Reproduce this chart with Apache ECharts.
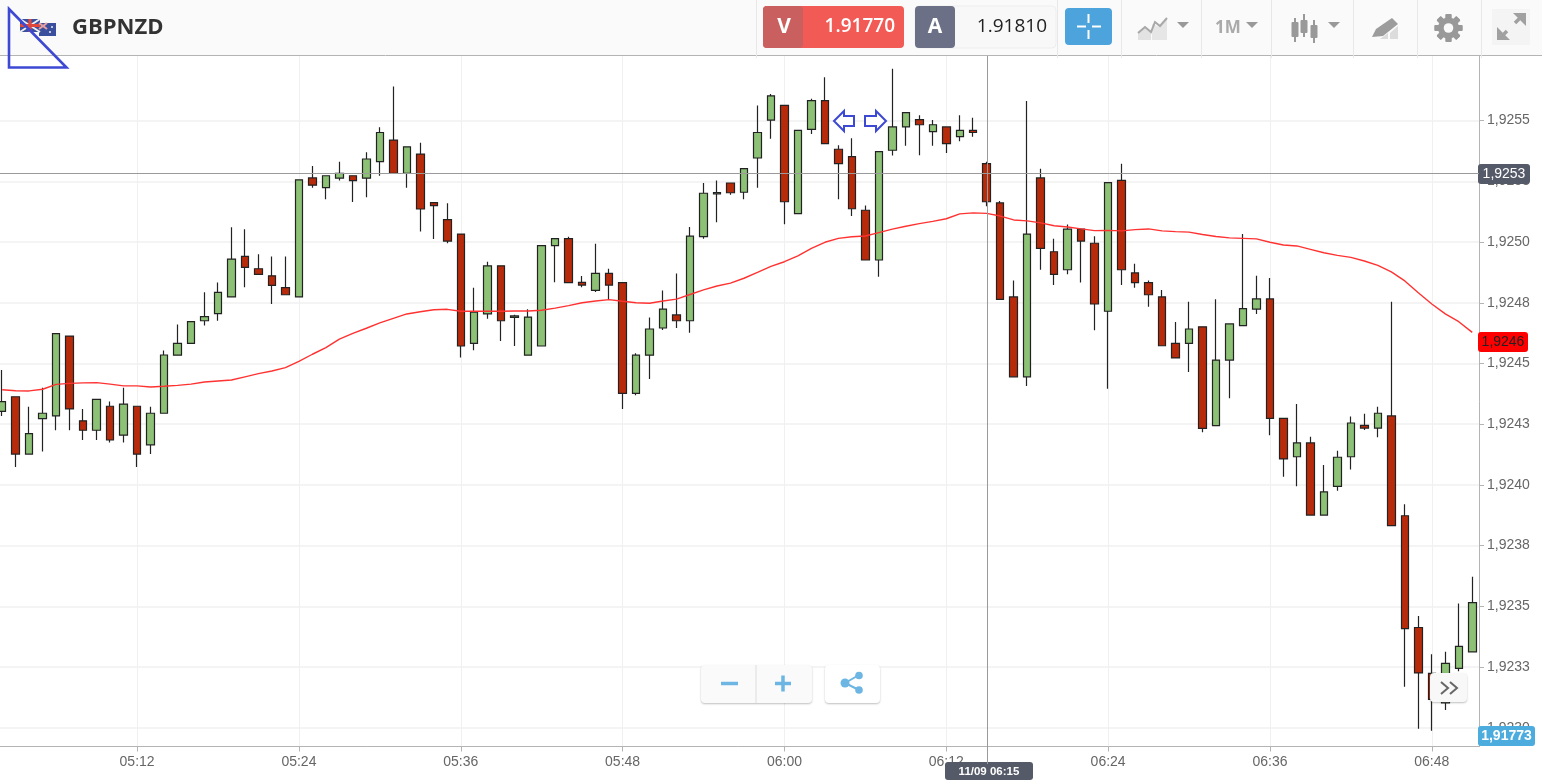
<!DOCTYPE html>
<html>
<head>
<meta charset="utf-8">
<style>html,body{margin:0;padding:0;background:#fff;overflow:hidden;width:1542px;height:780px}#c{position:absolute;left:-5px;top:0;width:1547px;height:780px}</style>
<script src="https://cdn.jsdelivr.net/npm/echarts@6/dist/echarts.min.js"></script>
</head>
<body>
<div id="c"></div>
<script>
const symbolName = 'GBPNZD';
const bidPrice = '1.91770';
const askPrice = '1.91810';
const startMinute = 5 * 60 + 2;
const candleCount = 110;
const categories = Array.from({length: candleCount}, (_, i) => {
  const m = startMinute + i;
  return String(Math.floor(m / 60)).padStart(2, '0') + ':' + String(m % 60).padStart(2, '0');
});
const opens = [1.924303,1.924363,1.924127,1.924273,1.924284,1.924613,1.924264,1.924225,1.924324,1.924205,
1.924324,1.924165,1.924295,1.924534,1.924583,1.924676,1.924705,1.924774,1.924941,1.92489,
1.924861,1.924812,1.924774,1.925264,1.925224,1.925263,1.925273,1.925263,1.925331,1.92542,
1.925283,1.925362,1.925162,1.925092,1.925033,1.924583,1.924704,1.924902,1.92469,1.924534,
1.924572,1.924985,1.925014,1.924834,1.924801,1.924871,1.924833,1.924377,1.924534,1.924646,
1.9247,1.924676,1.925022,1.925198,1.925243,1.925205,1.925346,1.925502,1.925563,1.925117,
1.925464,1.925582,1.925382,1.925352,1.925131,1.924926,1.925378,1.925474,1.925504,1.925455,
1.925474,1.925434,1.92546,1.925323,1.925161,1.924774,1.924445,1.925264,1.92496,1.924886,
1.925053,1.924995,1.924715,1.925254,1.924873,1.924833,1.924774,1.924583,1.924583,1.924651,
1.924244,1.924514,1.924656,1.924724,1.924766,1.924274,1.924116,1.924173,1.923876,1.923994,
1.924116,1.924245,1.924234,1.924284,1.923873,1.923413,1.923224,1.923103,1.923245,1.923313];
const closes = [1.924343,1.924127,1.924211,1.924295,1.924623,1.924313,1.924225,1.924352,1.924185,1.924333,
1.924127,1.924295,1.924535,1.924583,1.924672,1.924693,1.924793,1.92493,1.924896,1.924867,
1.924822,1.924783,1.925256,1.925234,1.925273,1.925283,1.925253,1.925342,1.925451,1.925283,
1.925392,1.925136,1.92515,1.925004,1.924572,1.924711,1.924902,1.924676,1.924696,1.924691,
1.924985,1.925014,1.924833,1.924823,1.924871,1.924823,1.924377,1.924534,1.924642,1.924724,
1.924676,1.925024,1.925201,1.925204,1.925203,1.925302,1.925451,1.925602,1.925166,1.92546,
1.925582,1.925405,1.925323,1.925137,1.924926,1.925372,1.925474,1.925533,1.925483,1.925483,
1.925405,1.92546,1.925451,1.925166,1.924764,1.924445,1.925033,1.924974,1.924867,1.925053,
1.925004,1.924745,1.925245,1.924886,1.924833,1.924783,1.924573,1.924523,1.924642,1.924233,
1.924514,1.924663,1.924726,1.924766,1.924274,1.924107,1.924173,1.923876,1.923971,1.924114,
1.924255,1.924234,1.924295,1.923832,1.923408,1.923226,1.923117,1.923265,1.923335,1.923515];
const lows = [1.924284,1.924074,1.924127,1.924138,1.924225,1.924225,1.924185,1.924185,1.924175,1.924175,
1.924074,1.924127,1.924295,1.924534,1.924583,1.924656,1.924676,1.924774,1.924814,1.924867,
1.924745,1.924783,1.924774,1.925224,1.925176,1.925253,1.925165,1.925184,1.925273,1.925283,
1.925224,1.925043,1.925013,1.924995,1.924525,1.924554,1.924684,1.924593,1.924572,1.924534,
1.924572,1.924834,1.924833,1.924814,1.924794,1.924761,1.924313,1.924369,1.924436,1.924638,
1.924646,1.924627,1.925014,1.925081,1.925195,1.925176,1.925224,1.925425,1.925073,1.925117,
1.925445,1.925405,1.925176,1.925107,1.924926,1.924857,1.925356,1.925396,1.925357,1.925396,
1.925367,1.925415,1.925434,1.925147,1.924764,1.924445,1.924407,1.924886,1.924823,1.924867,
1.924833,1.924637,1.924396,1.924823,1.924812,1.924734,1.924573,1.924523,1.924465,1.924217,
1.924244,1.924357,1.924656,1.924704,1.924205,1.924034,1.923995,1.923876,1.923876,1.923976,
1.924064,1.924226,1.924196,1.923832,1.923169,1.922996,1.922988,1.923073,1.923233,1.923313];
const highs = [1.924473,1.924363,1.924322,1.9244,1.924623,1.924613,1.924313,1.924352,1.924343,1.9244,
1.924324,1.924322,1.924553,1.924661,1.924672,1.924793,1.924833,1.925061,1.925053,1.92495,
1.92494,1.92494,1.925256,1.925313,1.925273,1.925331,1.925273,1.92537,1.925473,1.92564,
1.925392,1.925409,1.925165,1.92516,1.925033,1.924812,1.924919,1.924902,1.924701,1.924723,
1.924985,1.925014,1.925022,1.92486,1.924993,1.92489,1.924833,1.924542,1.924689,1.924801,
1.92487,1.925062,1.925243,1.925253,1.925243,1.925302,1.925562,1.92561,1.925563,1.92546,
1.92559,1.925679,1.925399,1.925427,1.92515,1.925372,1.925713,1.925533,1.925522,1.925502,
1.925474,1.925522,1.925512,1.925331,1.925169,1.924842,1.925581,1.925302,1.925014,1.925072,
1.925053,1.925024,1.925245,1.925322,1.924911,1.924842,1.924803,1.924671,1.924754,1.924651,
1.924764,1.924663,1.925033,1.924861,1.924852,1.924274,1.924333,1.924198,1.924082,1.924141,
1.924282,1.924293,1.924322,1.924754,1.92392,1.92346,1.923303,1.923313,1.923512,1.923622];
const movingAverage = [1.924392,1.924388,1.924387,1.924394,1.924414,1.924418,1.92442,1.924421,1.924415,1.924408,
1.924408,1.924403,1.924406,1.92441,1.924415,1.924424,1.924428,1.924432,1.924445,1.924458,
1.924469,1.924483,1.924509,1.924538,1.924565,1.9246,1.924624,1.924645,1.924667,1.924686,
1.924704,1.924713,1.924721,1.924723,1.924715,1.924715,1.924715,1.924715,1.924716,1.924716,
1.924719,1.924728,1.924738,1.92475,1.924757,1.924763,1.924756,1.92475,1.924748,1.924757,
1.924765,1.924784,1.924803,1.924819,1.924831,1.924851,1.924875,1.9249,1.924919,1.924943,
1.924974,1.924999,1.925015,1.925022,1.925025,1.925039,1.925053,1.925065,1.925076,1.925085,
1.925096,1.925116,1.92512,1.925118,1.925107,1.925091,1.925087,1.925079,1.925067,1.925062,
1.925054,1.925047,1.925048,1.925046,1.925051,1.925054,1.925046,1.925043,1.925041,1.925031,
1.925023,1.925017,1.925015,1.925013,1.924999,1.924988,1.924984,1.92497,1.924956,1.924945,
1.924937,1.924922,1.924904,1.924877,1.92484,1.924791,1.924745,1.924704,1.924672,1.924628];
const yTickValues = [1.9230,1.92325,1.9235,1.92375,1.9240,1.92425,1.9245,1.92475,1.9250,1.92525,1.9255];
const yTickLabels = ['1,9230','1,9233','1,9235','1,9238','1,9240','1,9243','1,9245','1,9248','1,9250','1,9253','1,9255'];
const yMin = 1.922923, yMax = 1.925766;
const crossTime = '06:15', crossTimeLabel = '11/09 06:15';
const crossPrice = 1.925283, crossPriceLabel = '1,9253';
const maTagPrice = 1.924588, maTagLabel = '1,9246';
const liveTagLabel = '1,91773';

const up = '#8cc176', down = '#b82b0a', edge = '#222222', gridC = '#f0f0f0', axisC = '#b4b4b4', txt = '#666';
const labelEvery = idx => (idx - 10) % 12 === 0;
const chart = echarts.init(document.getElementById('c'), null, {renderer: 'canvas'});
chart.setOption({
  animation: false,
  backgroundColor: '#fff',
  grid: {left: 0.46, right: 63, top: 56, bottom: 33.5, containLabel: false},
  xAxis: {
    type: 'category', data: categories, boundaryGap: true,
    axisLine: {lineStyle: {color: axisC, width: 1}},
    axisTick: {show: true, alignWithLabel: true, interval: labelEvery, length: 5, lineStyle: {color: axisC}},
    axisLabel: {interval: labelEvery, color: txt, fontFamily: 'Liberation Sans', fontSize: 14, margin: 9},
    splitLine: {show: true, alignWithLabel: true, interval: labelEvery, lineStyle: {color: gridC, width: 1}}
  },
  yAxis: {
    type: 'value', position: 'right', min: yMin, max: yMax, scale: true,
    axisLine: {show: true, lineStyle: {color: axisC, width: 1}},
    axisTick: {show: true, length: 5, customValues: yTickValues, lineStyle: {color: axisC}},
    axisLabel: {
      customValues: yTickValues, color: txt, fontFamily: 'Liberation Sans', fontSize: 14, margin: 8, padding: [2, 0, 0, 0],
      formatter: v => yTickLabels[yTickValues.findIndex(t => Math.abs(t - v) < 1e-7)] || ''
    },
    splitLine: {show: true, lineStyle: {color: gridC, width: 1.5}}
  },
  series: [
    {
      type: 'candlestick', barWidth: 8, z: 2,
      data: categories.map((_, i) => [opens[i], closes[i], lows[i], highs[i]]),
      itemStyle: {color: up, color0: down, borderColor: edge, borderColor0: edge, borderWidth: 1.2}
    },
    {
      type: 'line', data: movingAverage, showSymbol: false, smooth: false, z: 3,
      lineStyle: {color: '#ff3232', width: 1.4}
    }
  ]
});

const blue = '#3d49d3', Z = 100, shiftX = 5;
const R = (x, y, w, h, fill, r, extra) => Object.assign({type: 'rect', z: Z, silent: true, shape: {x, y, width: w, height: h, r: r || 0}, style: Object.assign({fill}, extra || {})});
const T = (x, y, text, fill, font, align) => ({type: 'text', z: Z + 2, silent: true, x, y, style: {text, fill, font, align: align || 'left', verticalAlign: 'middle'}});
const P = (pts, fill, stroke, lw) => ({type: 'polygon', z: Z + 1, silent: true, shape: {points: pts}, style: {fill: fill || 'none', stroke: stroke || 'none', lineWidth: lw || 0}});
const L = (x1, y1, x2, y2, stroke, lw) => ({type: 'line', z: Z + 1, silent: true, shape: {x1, y1, x2, y2}, style: {stroke, lineWidth: lw || 1}});
const C = (cx, cy, r, fill) => ({type: 'circle', z: Z + 1, silent: true, shape: {cx, cy, r}, style: {fill}});
const caret = (x, c) => P([[x, 22], [x + 12, 22], [x + 6, 28]], c || '#999');

const xCross = Math.round(chart.convertToPixel({xAxisIndex: 0}, crossTime) - shiftX) + 0.5;
const yCross = Math.round(chart.convertToPixel({yAxisIndex: 0}, crossPrice)) + 0.5;
const yMa = chart.convertToPixel({yAxisIndex: 0}, maTagPrice);

const els = [];
// crosshair
els.push(L(0, yCross, 1479, yCross, '#9a9a9a'), L(xCross, 56, xCross, 764, '#9a9a9a'));
// header
els.push(R(0, 0, 1542, 55, '#fafafa'), L(0, 55.5, 1542, 55.5, '#b4b4b4'));
[756, 1057, 1121, 1201, 1271, 1353, 1417, 1481].forEach(x => els.push(L(x + .5, 0, x + .5, 58, '#e8e8e8')));
// flag
els.push(R(20, 19, 20, 13, '#3a4f9e'), L(20, 19, 40, 32, '#eee', 2), L(40, 19, 20, 32, '#eee', 2), L(30, 19, 30, 32, '#e0483c', 3), L(20, 25.5, 40, 25.5, '#e0483c', 3));
els.push(R(39, 23, 17, 13, '#3a4f9e'), L(39, 23, 47, 29, '#e8a0a0', 2), L(47, 23, 39, 29, '#e8a0a0', 2), C(52, 27, 1, '#eee'), C(50, 32, 1, '#eee'));
els.push(T(72, 27.5, symbolName, '#333', '700 22px "Open Sans"'));
// triangle annotation
els.push(P([[9, 9], [9, 67.5], [66.5, 67.5]], 'none', blue, 2.6));
// bid / ask
els.push(R(763, 6, 141, 42, '#f15a55', 4), R(763, 6, 40, 42, '#c9605f', 4), T(784, 27.5, 'V', '#fff', '700 21px "Open Sans"', 'center'), T(895, 26.5, bidPrice, '#fff', '600 19px "Open Sans"', 'right'));
els.push(R(915, 6, 141, 42, '#f8f8f8', 4, {stroke: '#eeeeee'}), R(915, 6, 40, 42, '#6c7086', 4), T(935, 27.5, 'A', '#fff', '700 21px "Open Sans"', 'center'), T(1047, 26.5, askPrice, '#222', '400 19px "Open Sans"', 'right'));
// crosshair button
els.push(R(1065, 8, 47, 37, '#4da3dc', 4));
els.push(L(1077, 26.5, 1086, 26.5, '#fff', 2), L(1092, 26.5, 1101, 26.5, '#fff', 2), L(1088.5, 14, 1088.5, 23, '#fff', 2), L(1088.5, 30, 1088.5, 39, '#fff', 2));
// chart type icon
els.push(P([[1138, 40], [1138, 33], [1145, 28], [1151, 33], [1151, 40]], '#e2e2e2'), P([[1152, 40], [1152, 24], [1160, 27], [1167, 19], [1167, 40]], '#e6e6e6'));
els.push({type: 'polyline', z: Z + 2, silent: true, shape: {points: [[1138, 33], [1145, 27], [1151, 32], [1155, 22], [1160, 26], [1167, 18]]}, style: {stroke: '#a8a8a8', lineWidth: 2, fill: 'none'}});
els.push(caret(1177), T(1215, 28, '1M', '#aaa', '700 17px "Open Sans"'), caret(1246));
// candle icon
[[1295, 22, 15, 18, 24], [1304, 20, 13, 14, 23], [1314, 25, 13, 20, 23]].forEach(a => els.push(L(a[0], a[3], a[0], a[3] + a[4], '#999', 2), R(a[0] - 3.5, a[1], 7, a[2], '#999', 1)));
els.push(caret(1328));
// draw icon
els.push(P([[1372, 37], [1376, 29], [1392, 18], [1398, 24], [1383, 36]], '#9c9c9c'), P([[1380, 39], [1388, 39], [1388, 33]], '#dcdcdc'), P([[1390, 39], [1398, 39], [1398, 26], [1390, 33]], '#dcdcdc'));
// gear
for (let a = 0; a < 8; a++) els.push({type: 'rect', z: Z + 1, silent: true, shape: {x: -3, y: -14, width: 6, height: 28, r: 1}, x: 1448.5, y: 28, rotation: a * Math.PI / 4, style: {fill: '#999'}});
els.push(C(1448.5, 28, 10.5, '#999'), {...C(1448.5, 28, 4.8, '#fafafa'), z: Z + 2});
// expand
els.push(R(1492, 9, 38, 36, '#f4f4f4'), L(1500, 38, 1507, 31, '#a0a0a0', 3.5), L(1515, 23, 1522, 16, '#a0a0a0', 3.5), P([[1513, 13], [1526, 13], [1526, 26]], '#a0a0a0'), P([[1497, 27], [1497, 40], [1510, 40]], '#a0a0a0'));
// arrows
els.push(P([[834, 121], [844, 111], [844, 116], [854, 116], [854, 126], [844, 126], [844, 131]], '#fff', blue, 2));
els.push(P([[886, 121], [876, 111], [876, 116], [865, 116], [865, 126], [876, 126], [876, 131]], '#fff', blue, 2));
// price tags
els.push(R(1478, 164, 52, 20, '#555a68', 3), T(1504, 174.5, crossPriceLabel, '#fff', '14px "Liberation Sans"', 'center'));
els.push(R(1478, yMa - 10, 50, 20, '#ff0000', 3), T(1503, yMa + 0.5, maTagLabel, '#222', '14px "Liberation Sans"', 'center'));
els.push(R(1478, 726, 57, 20, '#4cacdd', 3), T(1506.5, 736.5, liveTagLabel, '#fff', '700 14px "Liberation Sans"', 'center'));
els.push(R(945, 762, 88, 18, '#555a68', 3), T(989, 771.5, crossTimeLabel, '#fff', '700 11.5px "Liberation Sans"', 'center'));
// zoom + share buttons
const sh = {shadowBlur: 2, shadowColor: 'rgba(0,0,0,.25)', shadowOffsetY: 1};
els.push(R(701, 665, 111, 38, '#fafafa', 4, sh), L(756, 665, 756, 703, '#ddd'), L(721, 683.5, 738, 683.5, '#6db5e3', 3.5), L(775, 683.5, 791, 683.5, '#6db5e3', 3.5), L(783, 675.5, 783, 691.5, '#6db5e3', 3.5));
els.push(R(825, 665, 55, 38, '#fff', 4, sh), L(845, 683, 859, 675, '#6db5e3', 2), L(845, 683, 859, 690, '#6db5e3', 2), C(845, 683, 4.5, '#6db5e3'), C(859, 675.5, 3.8, '#6db5e3'), C(859, 690, 3.8, '#6db5e3'));
// scroll button
els.push(R(1430, 673, 37, 29, '#f8f8f8', 4, sh));
els.push({type: 'polyline', z: Z + 2, silent: true, shape: {points: [[1441, 682], [1448, 688], [1441, 694]]}, style: {stroke: '#666', lineWidth: 2, fill: 'none'}});
els.push({type: 'polyline', z: Z + 2, silent: true, shape: {points: [[1450, 682], [1457, 688], [1450, 694]]}, style: {stroke: '#666', lineWidth: 2, fill: 'none'}});
chart.setOption({graphic: {elements: [{type: 'group', x: shiftX, y: 0, children: els}]}});
</script>
</body>
</html>
